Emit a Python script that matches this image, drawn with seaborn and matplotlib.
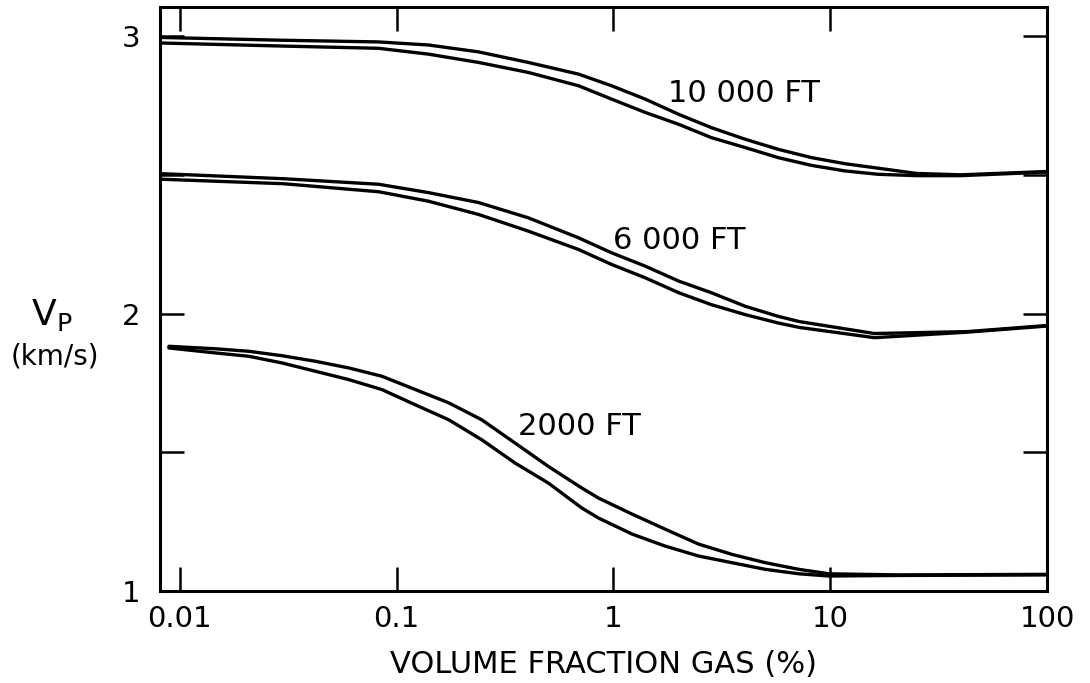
import seaborn as sns
import matplotlib.pyplot as plt
from matplotlib.ticker import NullLocator

# gas volume fraction (%) and Vp (km/s); two curves per depth
gas_10000 = [0.0083, 0.03, 0.0826, 0.14, 0.239, 0.405, 0.69, 0.98, 1.4, 2.0, 2.83,
             4.06, 5.75, 8.2, 11.7, 16.6, 25, 40, 100]
upper_10000 = [2.995, 2.985, 2.979, 2.968, 2.943, 2.905, 2.863, 2.821, 2.773, 2.718, 2.670,
               2.628, 2.592, 2.562, 2.540, 2.524, 2.505, 2.500, 2.512]
lower_10000 = [2.975, 2.964, 2.956, 2.935, 2.905, 2.869, 2.821, 2.773, 2.725, 2.682, 2.634,
               2.598, 2.562, 2.534, 2.514, 2.502, 2.497, 2.497, 2.510]

gas_6000 = [0.0083, 0.03, 0.0826, 0.14, 0.239, 0.405, 0.69, 0.98, 1.4, 2.0, 2.83,
            4.06, 5.75, 7.2, 16, 43, 100]
upper_6000 = [2.504, 2.486, 2.466, 2.436, 2.400, 2.345, 2.273, 2.219, 2.171, 2.117, 2.075,
              2.026, 1.990, 1.971, 1.928, 1.935, 1.957]
lower_6000 = [2.484, 2.468, 2.439, 2.405, 2.357, 2.297, 2.231, 2.177, 2.129, 2.075, 2.032,
              1.996, 1.966, 1.950, 1.913, 1.933, 1.955]

gas_2000 = [0.0089, 0.0146, 0.0208, 0.0296, 0.0422, 0.0601, 0.0855, 0.122, 0.174, 0.247,
            0.352, 0.501, 0.715, 0.853, 1.22, 1.73, 2.47, 3.52, 5.02, 7.17, 9.87, 20.8, 100]
upper_2000 = [1.882, 1.873, 1.864, 1.848, 1.828, 1.804, 1.774, 1.726, 1.678, 1.617,
              1.533, 1.449, 1.371, 1.335, 1.277, 1.223, 1.169, 1.132, 1.102, 1.078, 1.062, 1.058, 1.060]
lower_2000 = [1.876, 1.858, 1.846, 1.822, 1.792, 1.762, 1.726, 1.671, 1.617, 1.545,
              1.461, 1.389, 1.299, 1.263, 1.205, 1.162, 1.126, 1.102, 1.078, 1.062, 1.054, 1.056, 1.058]

depth_labels = ["10 000 FT", "6 000 FT", "2000 FT"]
label_pos = [(1.79, 2.762), (1.0, 2.231), (0.361, 1.563)]

x_ticks = [0.01, 0.1, 1, 10, 100]
x_ticklabels = ["0.01", "0.1", "1", "10", "100"]
y_ticks = [1, 1.5, 2, 2.5, 3]
y_ticklabels = ["1", "", "2", "", "3"]

sns.set_theme(style="ticks")
plt.rcParams['font.family'] = ['DejaVu Sans']
plt.rcParams['text.color'] = 'black'
plt.rcParams['axes.labelcolor'] = 'black'

fig = plt.figure(figsize=(10.9, 6.83), dpi=100)
ax = fig.add_axes([0.1468, 0.1347, 0.8138, 0.8551])

curves = [(gas_10000, upper_10000), (gas_10000, lower_10000),
          (gas_6000, upper_6000), (gas_6000, lower_6000),
          (gas_2000, upper_2000), (gas_2000, lower_2000)]
for gx, vp in curves:
    sns.lineplot(x=gx, y=vp, color='black', linewidth=2.4, ax=ax)

for txt, (tx, ty) in zip(depth_labels, label_pos):
    ax.text(tx, ty, txt, fontsize=22, ha='left', va='baseline', color='black')

ax.set_xscale('log')
ax.set_xlim(0.0081, 100)
ax.set_ylim(1.0, 3.105)
ax.set_xticks(x_ticks)
ax.set_xticklabels(x_ticklabels)
ax.xaxis.set_minor_locator(NullLocator())
ax.set_yticks(y_ticks)
ax.set_yticklabels(y_ticklabels)

ax.tick_params(axis='both', which='major', direction='in', length=17, width=1.8,
               top=True, right=True, labelsize=21, colors='black')
ax.tick_params(axis='x', pad=10)
ax.tick_params(axis='y', pad=14)
for sp in ax.spines.values():
    sp.set_linewidth(2.2)
    sp.set_color('black')

ax.set_xlabel("VOLUME FRACTION GAS (%)", fontsize=22, va='center', color='black')
ax.xaxis.set_label_coords(0.5, -0.125)

ax.text(-0.1218, 0.4726, "V$_\\mathregular{P}$", fontsize=26, ha='center', va='center',
        transform=ax.transAxes, clip_on=False, color='black')
ax.text(-0.1184, 0.4007, "(km/s)", fontsize=20, ha='center', va='center',
        transform=ax.transAxes, clip_on=False, color='black')

fig.savefig('out.png', dpi=100)
